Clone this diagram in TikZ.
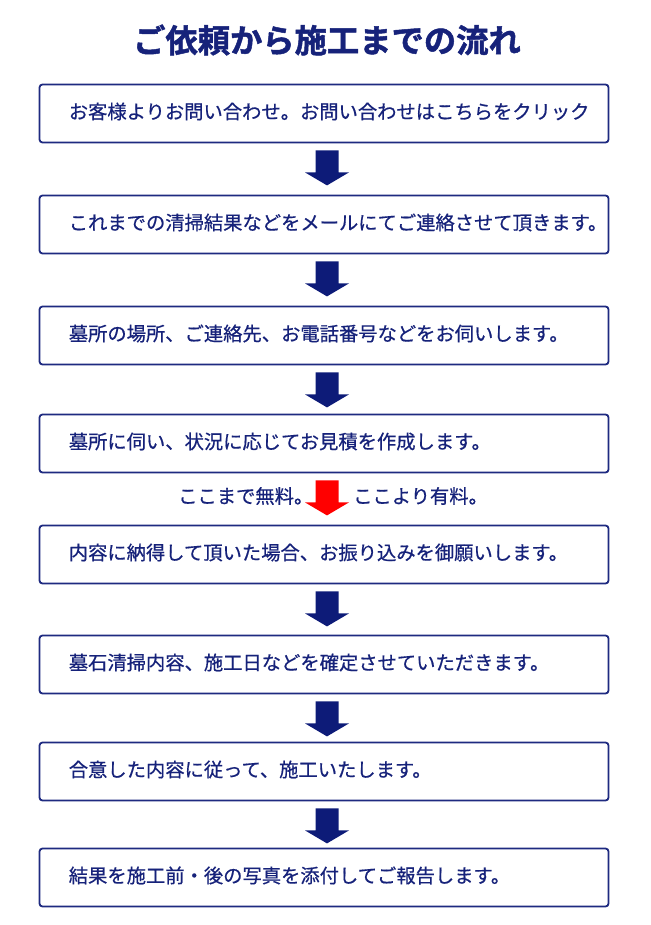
\documentclass[tikz,border=0pt]{standalone}
\usepackage{fontspec}
\newfontfamily\jp[FakeBold=0.6]{Noto Sans CJK JP}
\newfontfamily\jpt[FakeBold=1.5]{Noto Sans CJK JP Bold}
\usetikzlibrary{calc}
\definecolor{navy}{RGB}{22,34,122}
\definecolor{arrnavy}{RGB}{13,27,120}
\definecolor{boxline}{RGB}{30,42,128}
\tikzset{
  box/.style={draw=boxline, line width=1.8pt, rounded corners=3pt, minimum width=569pt, minimum height=58pt, inner sep=0pt, fill=white},
  lbl/.style={font=\jp\fontsize{19.3}{22}\selectfont, text=navy, inner sep=0pt, anchor=west},
  downarrow/.pic={\fill[pic actions] (-11.5,0) -- (11.5,0) -- (11.5,-22) -- (22,-22) -- (0,-35) -- (-22,-22) -- (-11.5,-22) -- cycle;}
}
\begin{document}
\begin{tikzpicture}[x=1pt,y=1pt]
\useasboundingbox (0,0) rectangle (650,-925);
\node[font=\jpt\fontsize{32.3}{36}\selectfont, text=navy, inner sep=0pt] (title) at (327,-40) {ご依頼から施工までの流れ};
\node[box] (b1) at (324,-113.5) {};
\node[box] (b2) at (324,-224.5) {};
\node[box] (b3) at (324,-335.5) {};
\node[box] (b4) at (324,-443.5) {};
\node[box] (b5) at (324,-554.5) {};
\node[box] (b6) at (324,-664.5) {};
\node[box] (b7) at (324,-771.5) {};
\node[box] (b8) at (324,-877.5) {};
\node[lbl] (t1) at ([xshift=30pt,yshift=2pt]b1.west) {お客様よりお問い合わせ。お問い合わせはこちらをクリック};
\node[lbl] (t2) at ([xshift=30pt,yshift=2pt]b2.west) {これまでの清掃結果などをメールにてご連絡させて頂きます。};
\node[lbl] (t3) at ([xshift=30pt,yshift=2pt]b3.west) {墓所の場所、ご連絡先、お電話番号などをお伺いします。};
\node[lbl] (t4) at ([xshift=30pt,yshift=2pt]b4.west) {墓所に伺い、状況に応じてお見積を作成します。};
\node[lbl] (t5) at ([xshift=30pt,yshift=2pt]b5.west) {内容に納得して頂いた場合、お振り込みを御願いします。};
\node[lbl] (t6) at ([xshift=30pt,yshift=2pt]b6.west) {墓石清掃内容、施工日などを確定させていただきます。};
\node[lbl] (t7) at ([xshift=30pt,yshift=2pt]b7.west) {合意した内容に従って、施工いたします。};
\node[lbl] (t8) at ([xshift=30pt,yshift=2pt]b8.west) {結果を施工前・後の写真を添付してご報告します。};
\pic[fill=arrnavy] at ($(b1.south)+(3,-7)$) {downarrow};
\pic[fill=arrnavy] at ($(b2.south)+(3,-7)$) {downarrow};
\pic[fill=arrnavy] at ($(b3.south)+(3,-7)$) {downarrow};
\pic[fill=red] at ($(b4.south)+(3,-7)$) {downarrow};
\pic[fill=arrnavy] at ($(b5.south)+(3,-7)$) {downarrow};
\pic[fill=arrnavy] at ($(b6.south)+(3,-7)$) {downarrow};
\pic[fill=arrnavy] at ($(b7.south)+(3,-7)$) {downarrow};
\node[lbl] (free) at (178,-496) {ここまで無料。};
\node[lbl] (paid) at (353,-496) {ここより有料。};
\end{tikzpicture}
\end{document}
